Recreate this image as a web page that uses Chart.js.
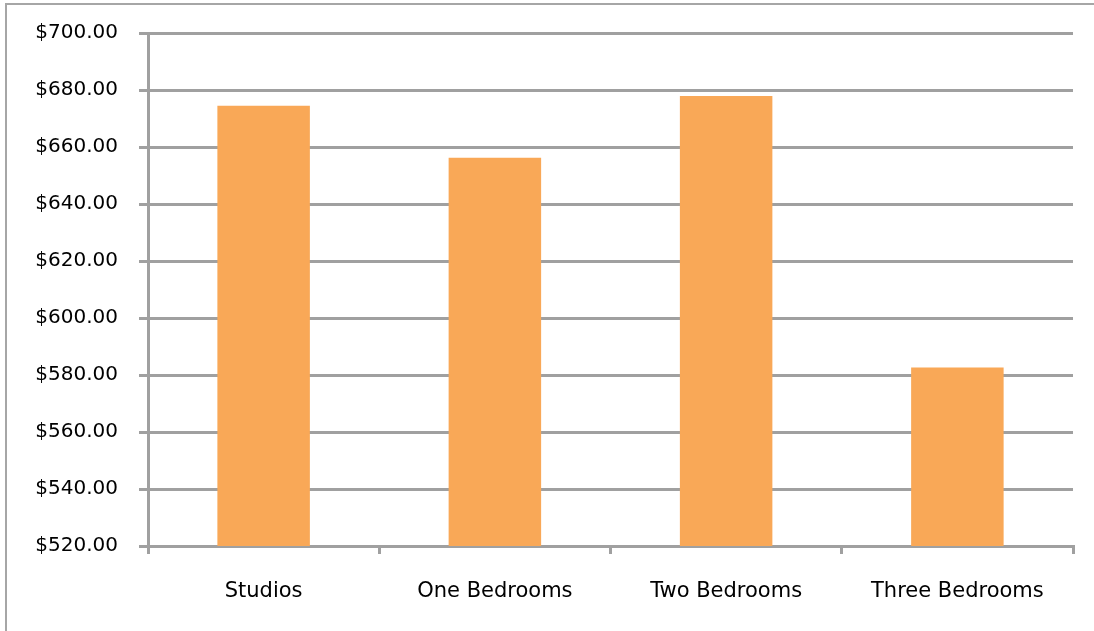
<!DOCTYPE html>
<html>
<head>
<meta charset="utf-8">
<script src="https://cdn.jsdelivr.net/npm/chart.js@4"></script>
<style>
  html, body { margin: 0; padding: 0; background: #ffffff; }
  #wrap { position: relative; width: 1094px; height: 631px; overflow: hidden; }
  #frame {
    position: absolute; left: 5px; top: 3px; width: 1200px; height: 800px;
    border-top: 2px solid #a6a6a6; border-left: 2px solid #a6a6a6;
  }
  #chart { position: absolute; left: 0; top: 0; }
</style>
</head>
<body>
<div id="wrap">
  <div id="frame"></div>
  <canvas id="chart" width="1094" height="631"></canvas>
</div>
<script>
// Average rent by unit type
const categories = ['Studios', 'One Bedrooms', 'Two Bedrooms', 'Three Bedrooms'];
const rentValues = [674.5, 656.2, 677.9, 582.6];

// Y axis range and step
const yMin = 520;
const yMax = 700;
const yStep = 20;

const gridColor = '#a0a0a0';
const barColor = '#f9a857';
const fontFamily = '"DejaVu Sans", Verdana, sans-serif';

const ctx = document.getElementById('chart').getContext('2d');

new Chart(ctx, {
    type: 'bar',
    data: {
        labels: categories,
        datasets: [{
            data: rentValues,
            backgroundColor: barColor,
            borderWidth: 0,
            categoryPercentage: 0.4,
            barPercentage: 1.0
        }]
    },
    options: {
        responsive: false,
        animation: false,
        layout: {
            padding: { top: 32, right: 21, left: 0, bottom: 0 }
        },
        plugins: {
            legend: { display: false },
            tooltip: { enabled: false }
        },
        scales: {
            x: {
                offset: true,
                grid: {
                    offset: true,
                    drawOnChartArea: false,
                    drawTicks: true,
                    tickLength: 8,
                    color: gridColor,
                    lineWidth: 3
                },
                border: { color: gridColor, width: 3 },
                ticks: {
                    color: '#000000',
                    padding: 25,
                    maxRotation: 0,
                    font: { family: fontFamily, size: 21 }
                },
                afterFit: (scale) => { scale.height = 85; }
            },
            y: {
                min: yMin,
                max: yMax,
                grid: {
                    color: gridColor,
                    lineWidth: 3,
                    tickLength: 9
                },
                border: { color: gridColor, width: 3 },
                ticks: {
                    stepSize: yStep,
                    color: '#000000',
                    padding: 21,
                    font: { family: fontFamily, size: 20 },
                    callback: (value) => '$' + value.toFixed(2)
                },
                afterFit: (scale) => { scale.width = 148; }
            }
        }
    }
});
</script>
</body>
</html>
